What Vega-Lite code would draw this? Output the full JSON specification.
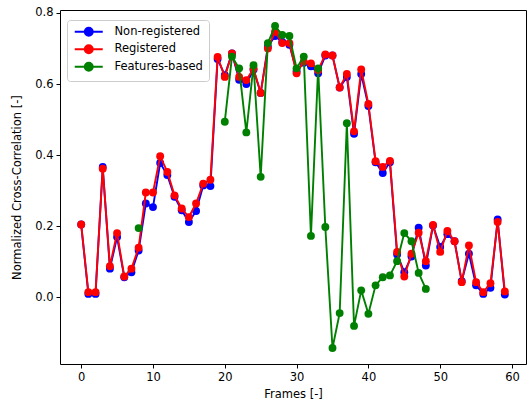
{
  "$schema": "https://vega.github.io/schema/vega-lite/v6.json",
  "width": 466,
  "height": 354,
  "autosize": {"type": "none"},
  "padding": {"left": 60, "top": 10, "right": 4, "bottom": 42},
  "background": "white",
  "config": {
    "font": "DejaVu Sans",
    "view": {"stroke": "#000000", "strokeWidth": 1},
    "axis": {"domain": false, "grid": false, "tickColor": "#000000", "tickSize": 4, "tickWidth": 1, "labelFontSize": 11.5, "labelColor": "#000000", "titleFontSize": 11.5, "titleFontWeight": "normal", "titleColor": "#000000", "labelPadding": 3},
    "legend": {"rowPadding": 0.5, "symbolSize": 64}
  },
  "data": {"values": [
    {"frame":0,"series":"Non-registered","value":0.205},{"frame":1,"series":"Non-registered","value":0.010},{"frame":2,"series":"Non-registered","value":0.010},{"frame":3,"series":"Non-registered","value":0.367},{"frame":4,"series":"Non-registered","value":0.081},{"frame":5,"series":"Non-registered","value":0.170},{"frame":6,"series":"Non-registered","value":0.057},{"frame":7,"series":"Non-registered","value":0.071},{"frame":8,"series":"Non-registered","value":0.132},{"frame":9,"series":"Non-registered","value":0.264},
    {"frame":10,"series":"Non-registered","value":0.254},{"frame":11,"series":"Non-registered","value":0.378},{"frame":12,"series":"Non-registered","value":0.344},{"frame":13,"series":"Non-registered","value":0.283},{"frame":14,"series":"Non-registered","value":0.245},{"frame":15,"series":"Non-registered","value":0.212},{"frame":16,"series":"Non-registered","value":0.243},{"frame":17,"series":"Non-registered","value":0.315},{"frame":18,"series":"Non-registered","value":0.313},{"frame":19,"series":"Non-registered","value":0.670},
    {"frame":20,"series":"Non-registered","value":0.625},{"frame":21,"series":"Non-registered","value":0.686},{"frame":22,"series":"Non-registered","value":0.612},{"frame":23,"series":"Non-registered","value":0.600},{"frame":24,"series":"Non-registered","value":0.640},{"frame":25,"series":"Non-registered","value":0.575},{"frame":26,"series":"Non-registered","value":0.705},{"frame":27,"series":"Non-registered","value":0.735},{"frame":28,"series":"Non-registered","value":0.718},{"frame":29,"series":"Non-registered","value":0.710},
    {"frame":30,"series":"Non-registered","value":0.636},{"frame":31,"series":"Non-registered","value":0.660},{"frame":32,"series":"Non-registered","value":0.650},{"frame":33,"series":"Non-registered","value":0.630},{"frame":34,"series":"Non-registered","value":0.680},{"frame":35,"series":"Non-registered","value":0.680},{"frame":36,"series":"Non-registered","value":0.590},{"frame":37,"series":"Non-registered","value":0.620},{"frame":38,"series":"Non-registered","value":0.460},{"frame":39,"series":"Non-registered","value":0.628},
    {"frame":40,"series":"Non-registered","value":0.538},{"frame":41,"series":"Non-registered","value":0.380},{"frame":42,"series":"Non-registered","value":0.350},{"frame":43,"series":"Non-registered","value":0.380},{"frame":44,"series":"Non-registered","value":0.121},{"frame":45,"series":"Non-registered","value":0.071},{"frame":46,"series":"Non-registered","value":0.115},{"frame":47,"series":"Non-registered","value":0.196},{"frame":48,"series":"Non-registered","value":0.090},{"frame":49,"series":"Non-registered","value":0.202},
    {"frame":50,"series":"Non-registered","value":0.142},{"frame":51,"series":"Non-registered","value":0.178},{"frame":52,"series":"Non-registered","value":0.158},{"frame":53,"series":"Non-registered","value":0.046},{"frame":54,"series":"Non-registered","value":0.123},{"frame":55,"series":"Non-registered","value":0.034},{"frame":56,"series":"Non-registered","value":0.010},{"frame":57,"series":"Non-registered","value":0.027},{"frame":58,"series":"Non-registered","value":0.219},{"frame":59,"series":"Non-registered","value":0.008},
    {"frame":0,"series":"Registered","value":0.205},{"frame":1,"series":"Registered","value":0.015},{"frame":2,"series":"Registered","value":0.015},{"frame":3,"series":"Registered","value":0.362},{"frame":4,"series":"Registered","value":0.088},{"frame":5,"series":"Registered","value":0.181},{"frame":6,"series":"Registered","value":0.059},{"frame":7,"series":"Registered","value":0.081},{"frame":8,"series":"Registered","value":0.140},{"frame":9,"series":"Registered","value":0.295},
    {"frame":10,"series":"Registered","value":0.295},{"frame":11,"series":"Registered","value":0.397},{"frame":12,"series":"Registered","value":0.353},{"frame":13,"series":"Registered","value":0.287},{"frame":14,"series":"Registered","value":0.250},{"frame":15,"series":"Registered","value":0.226},{"frame":16,"series":"Registered","value":0.264},{"frame":17,"series":"Registered","value":0.320},{"frame":18,"series":"Registered","value":0.331},{"frame":19,"series":"Registered","value":0.676},
    {"frame":20,"series":"Registered","value":0.620},{"frame":21,"series":"Registered","value":0.686},{"frame":22,"series":"Registered","value":0.620},{"frame":23,"series":"Registered","value":0.611},{"frame":24,"series":"Registered","value":0.643},{"frame":25,"series":"Registered","value":0.575},{"frame":26,"series":"Registered","value":0.700},{"frame":27,"series":"Registered","value":0.747},{"frame":28,"series":"Registered","value":0.715},{"frame":29,"series":"Registered","value":0.715},
    {"frame":30,"series":"Registered","value":0.630},{"frame":31,"series":"Registered","value":0.663},{"frame":32,"series":"Registered","value":0.658},{"frame":33,"series":"Registered","value":0.639},{"frame":34,"series":"Registered","value":0.683},{"frame":35,"series":"Registered","value":0.680},{"frame":36,"series":"Registered","value":0.590},{"frame":37,"series":"Registered","value":0.628},{"frame":38,"series":"Registered","value":0.467},{"frame":39,"series":"Registered","value":0.641},
    {"frame":40,"series":"Registered","value":0.544},{"frame":41,"series":"Registered","value":0.383},{"frame":42,"series":"Registered","value":0.367},{"frame":43,"series":"Registered","value":0.384},{"frame":44,"series":"Registered","value":0.128},{"frame":45,"series":"Registered","value":0.059},{"frame":46,"series":"Registered","value":0.123},{"frame":47,"series":"Registered","value":0.182},{"frame":48,"series":"Registered","value":0.102},{"frame":49,"series":"Registered","value":0.204},
    {"frame":50,"series":"Registered","value":0.128},{"frame":51,"series":"Registered","value":0.187},{"frame":52,"series":"Registered","value":0.158},{"frame":53,"series":"Registered","value":0.043},{"frame":54,"series":"Registered","value":0.146},{"frame":55,"series":"Registered","value":0.043},{"frame":56,"series":"Registered","value":0.015},{"frame":57,"series":"Registered","value":0.040},{"frame":58,"series":"Registered","value":0.212},{"frame":59,"series":"Registered","value":0.017},
    {"frame":8,"series":"Features-based","value":0.195},{"frame":9,"series":"Features-based","value":null},{"frame":10,"series":"Features-based","value":null},{"frame":11,"series":"Features-based","value":null},{"frame":12,"series":"Features-based","value":null},{"frame":13,"series":"Features-based","value":null},{"frame":14,"series":"Features-based","value":null},{"frame":15,"series":"Features-based","value":null},{"frame":16,"series":"Features-based","value":null},{"frame":17,"series":"Features-based","value":null},{"frame":18,"series":"Features-based","value":null},{"frame":19,"series":"Features-based","value":null},
    {"frame":20,"series":"Features-based","value":0.494},{"frame":21,"series":"Features-based","value":0.677},{"frame":22,"series":"Features-based","value":0.644},{"frame":23,"series":"Features-based","value":0.464},{"frame":24,"series":"Features-based","value":0.653},{"frame":25,"series":"Features-based","value":0.339},{"frame":26,"series":"Features-based","value":0.715},{"frame":27,"series":"Features-based","value":0.763},{"frame":28,"series":"Features-based","value":0.738},{"frame":29,"series":"Features-based","value":0.735},
    {"frame":30,"series":"Features-based","value":0.644},{"frame":31,"series":"Features-based","value":0.677},{"frame":32,"series":"Features-based","value":0.173},{"frame":33,"series":"Features-based","value":0.644},{"frame":34,"series":"Features-based","value":0.198},{"frame":35,"series":"Features-based","value":-0.142},{"frame":36,"series":"Features-based","value":-0.044},{"frame":37,"series":"Features-based","value":0.490},{"frame":38,"series":"Features-based","value":-0.080},{"frame":39,"series":"Features-based","value":0.020},
    {"frame":40,"series":"Features-based","value":-0.046},{"frame":41,"series":"Features-based","value":0.034},{"frame":42,"series":"Features-based","value":0.057},{"frame":43,"series":"Features-based","value":0.062},{"frame":44,"series":"Features-based","value":0.102},{"frame":45,"series":"Features-based","value":0.181},{"frame":46,"series":"Features-based","value":0.158},{"frame":47,"series":"Features-based","value":0.069},{"frame":48,"series":"Features-based","value":0.024}
  ]},
  "encoding": {
    "x": {"field": "frame", "type": "quantitative", "scale": {"domain": [-2.95, 61.95], "nice": false, "zero": false}, "axis": {"values": [0, 10, 20, 30, 40, 50, 60], "title": "Frames [-]", "titlePadding": 6}},
    "y": {"field": "value", "type": "quantitative", "scale": {"domain": [-0.187, 0.808], "nice": false, "zero": false}, "axis": {"values": [0, 0.2, 0.4, 0.6, 0.8], "format": ".1f", "title": "Normalized Cross-Correlation [-]", "titlePadding": 12}},
    "color": {"field": "series", "type": "nominal", "scale": {"domain": ["Non-registered", "Registered", "Features-based"], "range": ["#0000ff", "#ff0000", "#008000"]},
      "legend": {"title": null, "orient": "none", "legendX": 7, "legendY": 10, "fillColor": "white", "strokeColor": "#cccccc", "cornerRadius": 3, "padding": 6, "labelFontSize": 11.5, "labelColor": "#000000", "symbolType": "M-3.5,0H3.5M1,0A1,1,0,1,1,-1,0A1,1,0,1,1,1,0Z", "symbolSize": 64, "symbolStrokeWidth": 1.9, "symbolOffset": 10, "labelOffset": 20, "rowPadding": 0.5,
        "encode": {"symbols": {"update": {"fill": {"scale": "color", "field": "value"}, "stroke": {"scale": "color", "field": "value"}, "fillOpacity": {"value": 1}, "opacity": {"value": 1}, "size": {"value": 64}}}}}}
  },
  "layer": [
    {"transform": [{"filter": "datum.series === 'Non-registered'"}], "mark": {"type": "line", "strokeWidth": 1.9, "point": {"filled": true, "size": 62, "opacity": 1}}},
    {"transform": [{"filter": "datum.series === 'Registered'"}], "mark": {"type": "line", "strokeWidth": 1.9, "point": {"filled": true, "size": 62, "opacity": 1}}},
    {"transform": [{"filter": "datum.series === 'Features-based'"}], "mark": {"type": "line", "strokeWidth": 1.9, "point": {"filled": true, "size": 62, "opacity": 1}}}
  ]
}
